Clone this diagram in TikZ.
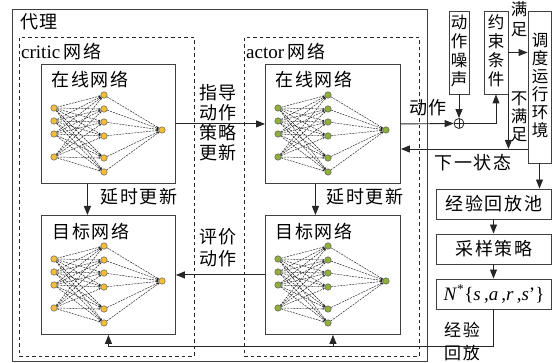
\documentclass[tikz,border=0pt]{standalone}
\usepackage{fontspec}
\setmainfont{Liberation Serif}
\newfontfamily\cjk[LetterSpace=10]{Noto Sans CJK SC}
\newfontfamily\cjkv{Noto Sans CJK SC}
\usetikzlibrary{arrows.meta}
\definecolor{critc}{HTML}{F2BE3A}
\definecolor{actc}{HTML}{8FB03C}
\newcommand\mynet[4]{%
  \foreach \i/\d in {1/44,2/57,3/70,4/93} \node[neu, fill=#4] (#1i\i) at (#2+13,#3+\d) {};
  \foreach \j/\d in {1/31,2/45,3/58,4/72,5/94,6/108} \node[neu, fill=#4] (#1h\j) at (#2+63,#3+\d) {};
  \node[neu, fill=#4] (#1out) at (#2+121,#3+66) {};
  \foreach \i in {1,...,4} {\foreach \j in {1,...,6} {\draw[ned] (#1i\i) -- (#1h\j);}}
  \foreach \j in {1,...,6} {\draw[ned] (#1h\j) -- (#1out);}
}
\begin{document}
\begin{tikzpicture}[x=1pt,y=-1pt,
  box/.style={draw=black!75, line width=0.9pt, inner sep=0pt},
  dbox/.style={draw=black!85, line width=0.8pt, dash pattern=on 3.5pt off 3pt, inner sep=0pt},
  arr/.style={draw=black!85, line width=0.9pt, -{Triangle[length=9pt,width=7pt]}},
  lab/.style={font=\cjk\fontsize{18}{20}\selectfont, inner sep=0pt, align=center},
  vlab/.style={font=\cjkv\fontsize{16.5}{19}\selectfont, inner sep=0pt, align=center},
  neu/.style={circle, draw=black!70, line width=0.4pt, minimum size=6.5pt, inner sep=0pt},
  ned/.style={draw=black!90, line width=0.45pt, dash pattern=on 2pt off 1pt, -{Stealth[length=2.2pt,width=1.8pt]}},
  sumc/.style={circle, draw=black!85, line width=0.8pt, minimum size=10pt, inner sep=0pt,
    path picture={\draw[black!85, line width=0.6pt] (path picture bounding box.north) -- (path picture bounding box.south) (path picture bounding box.west) -- (path picture bounding box.east);}}
]
\useasboundingbox (0,0) rectangle (552,363);
% containers
\node[box, anchor=north west, minimum width=415pt, minimum height=352pt] (agent) at (12,9) {};
\node[lab, anchor=west] (agentlab) at (20,22) {代理};
\node[dbox, anchor=north west, minimum width=175pt, minimum height=319pt] (crit) at (19,37) {};
\node[dbox, anchor=north west, minimum width=175pt, minimum height=319pt] (act) at (244,37) {};
\node[anchor=west, inner sep=0pt, font=\fontsize{19}{20}\selectfont] (critlab) at (21,52) {critic\,{\cjk\fontsize{18}{20}\selectfont 网络}};
\node[anchor=west, inner sep=0pt, font=\fontsize{19}{20}\selectfont] (actlab) at (246,52) {actor\,{\cjk\fontsize{18}{20}\selectfont 网络}};
% network boxes
\node[box, anchor=north west, minimum width=134pt, minimum height=119pt] (bco) at (41,64) {};
\node[box, anchor=north west, minimum width=134pt, minimum height=119pt] (bct) at (41,215) {};
\node[box, anchor=north west, minimum width=135pt, minimum height=119pt] (bao) at (265,64) {};
\node[box, anchor=north west, minimum width=135pt, minimum height=119pt] (bat) at (265,215) {};
\node[lab] (colab) at (90,80) {在线网络};
\node[lab] (ctlab) at (91,232) {目标网络};
\node[lab] (aolab) at (314,80) {在线网络};
\node[lab] (atlab) at (314,232) {目标网络};
\mynet{netp}{41}{64}{critc}
\mynet{netq}{41}{215}{critc}
\mynet{netr}{265}{64}{actc}
\mynet{nets}{265}{215}{actc}
% right side boxes
\node[box, minimum width=20pt, minimum height=83pt] (noise) at (459,52.5) {};
\node[vlab] (noiselab) at (459,51) {动\\作\\噪\\声};
\node[box, minimum width=24pt, minimum height=83pt] (cons) at (496,52.5) {};
\node[vlab] (conslab) at (496,51) {约\\束\\条\\件};
\node[box, minimum width=23pt, minimum height=152pt] (env) at (539.5,87) {};
\node[vlab, font=\cjkv\fontsize{16.5}{18}\selectfont] (envlab) at (540,85) {调\\度\\运\\行\\环\\境};
\node[box, minimum width=115pt, minimum height=30pt] (rb) at (493.5,204) {};
\node[lab] (rblab) at (494,204) {经验回放池};
\node[box, minimum width=115pt, minimum height=30pt] (sp) at (493.5,249) {};
\node[lab] (splab) at (494,249) {采样策略};
\node[box, minimum width=115pt, minimum height=30pt] (nbx) at (493.5,294) {};
\node[inner sep=0pt, font=\fontsize{19}{20}\selectfont] (nblab) at (494,294) {\textit{N}\textsuperscript{*}\{\textit{s}\,,\textit{a}\,,\textit{r}\,,\textit{s}'\}};
\node[sumc] (sum) at (459,123.5) {};
% connectors
\draw[arr] (bco.east) -- (bao.west);
\draw[arr] ([xshift=-21pt]bco.south) -- ([xshift=-21pt]bct.north);
\draw[arr] ([xshift=-17.5pt]bao.south) -- ([xshift=-17.5pt]bat.north);
\draw[arr] (bat.west) -- (bct.east);
\draw[arr] (bao.east) -- (sum.west);
\draw[arr] (noise.south) -- (sum.north);
\draw[arr] (sum.east) -| (cons.south);
\draw[arr] (cons.east) -- (cons.east -| env.west);
\coordinate (ns) at (528,149);
\draw[arr] (ns) -- (ns -| bao.east);
\draw[arr] (cons.south east) -- (cons.south east |- ns);
\draw[arr] (env.south) -- (env.south |- rb.north);
\draw[arr] (rb.south) -- (sp.north);
\draw[arr] (sp.south) -- (nbx.north);
\coordinate (bot) at (0,346);
\draw[arr] (nbx.south) |- (bot -| bct.south) -- (bct.south);
\draw[arr] (bot -| bat.south) -- (bat.south);
% labels
\node[lab] (l1) at (218,123) {指导\\动作\\策略\\更新};
\node[lab] (l2) at (139,197) {延时更新};
\node[lab] (l3) at (365,197) {延时更新};
\node[lab, font=\cjk\fontsize{18}{22}\selectfont] (l4) at (218,248) {评价\\动作};
\node[lab] (l5) at (428,108) {动作};
\node[lab] (l6) at (473,163) {下一状态};
\node[vlab, font=\cjkv\fontsize{16.5}{20}\selectfont] (l7) at (519,19.5) {满\\足};
\node[vlab, font=\cjkv\fontsize{16.5}{18}\selectfont] (l8) at (519,117) {不\\满\\足};
\node[lab, font=\cjk\fontsize{17}{23}\selectfont] (l9) at (462,341.5) {经验\\回放};
\end{tikzpicture}
\end{document}
